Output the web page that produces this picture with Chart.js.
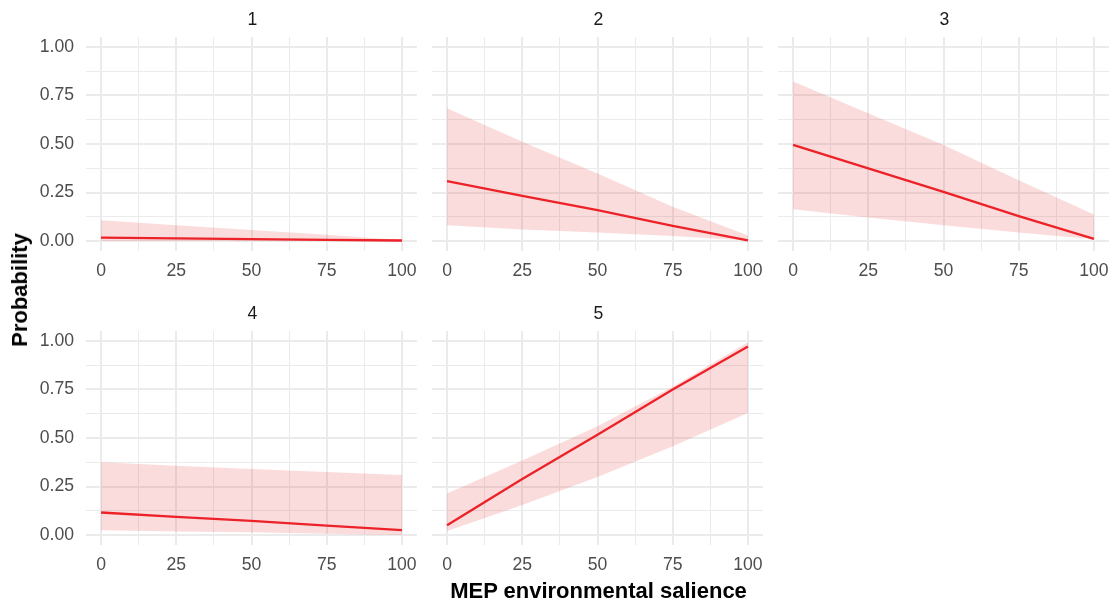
<!DOCTYPE html>
<html>
<head>
<meta charset="utf-8">
<script src="https://cdn.jsdelivr.net/npm/chart.js@4"></script>
<style>
  body { margin: 0; background: #fff; width: 1118px; height: 604px; position: relative; overflow: hidden;
         font-family: "Liberation Sans", Arial, sans-serif; }
  canvas { position: absolute; }
  .lbl { position: absolute; transform: translate(-50%, -50%); line-height: 1; white-space: nowrap; }
  .strip { font-size: 17.6px; color: #1a1a1a; }
  .axis-title { font-size: 22px; font-weight: bold; color: #000; }
</style>
</head>
<body>
<script>
// Predicted probability of each response category across MEP environmental salience
const salience = [0, 25, 50, 75, 100];
const categories = ['1', '2', '3', '4', '5'];

const fit1   = [0.019, 0.015, 0.011, 0.007, 0.004];
const lower1 = [0.002, 0.002, 0.001, 0.001, 0.000];
const upper1 = [0.108, 0.082, 0.058, 0.034, 0.006];

const fit2   = [0.309, 0.233, 0.160, 0.079, 0.005];
const lower2 = [0.082, 0.060, 0.045, 0.027, 0.004];
const upper2 = [0.684, 0.512, 0.349, 0.177, 0.030];

const fit3   = [0.495, 0.375, 0.254, 0.129, 0.012];
const lower3 = [0.165, 0.122, 0.082, 0.045, 0.010];
const upper3 = [0.821, 0.658, 0.495, 0.314, 0.138];

const fit4   = [0.117, 0.095, 0.074, 0.050, 0.026];
const lower4 = [0.026, 0.020, 0.016, 0.008, 0.001];
const upper4 = [0.375, 0.358, 0.341, 0.325, 0.310];

const fit5   = [0.052, 0.289, 0.517, 0.749, 0.970];
const lower5 = [0.022, 0.155, 0.300, 0.458, 0.628];
const upper5 = [0.215, 0.384, 0.560, 0.763, 0.992];

const xTickValues = [0, 12.5, 25, 37.5, 50, 62.5, 75, 87.5, 100];
const yTickValues = [0, 0.125, 0.25, 0.375, 0.5, 0.625, 0.75, 0.875, 1];

const panels = [
  { name: categories[0], fit: fit1, lower: lower1, upper: upper1, row: 0, col: 0 },
  { name: categories[1], fit: fit2, lower: lower2, upper: upper2, row: 0, col: 1 },
  { name: categories[2], fit: fit3, lower: lower3, upper: upper3, row: 0, col: 2 },
  { name: categories[3], fit: fit4, lower: lower4, upper: upper4, row: 1, col: 0 },
  { name: categories[4], fit: fit5, lower: lower5, upper: upper5, row: 1, col: 1 }
];

// Facet grid geometry (plot areas)
const plotLeft = [86, 432, 778];
const plotTop = [37, 331];
const plotW = 333, plotH = 214;
const yAxisW = 60, xAxisH = 40, padTop = 26, padRight = 8;

const FONT = '"Liberation Sans", Arial, sans-serif';
const GRID = '#ebebeb';
const LINE = '#ee1c24';
const RIBBON = 'rgba(235, 60, 60, 0.18)';

const isMajor = (v, step) => Math.abs(v / step - Math.round(v / step)) < 1e-9;
const pts = ys => ys.map((y, i) => ({ x: salience[i], y }));

function addLabel(text, cls, x, y, rotate) {
  const d = document.createElement('div');
  d.className = 'lbl ' + cls;
  d.textContent = text;
  d.style.left = x + 'px';
  d.style.top = y + 'px';
  if (rotate) d.style.transform = 'translate(-50%, -50%) rotate(-90deg)';
  document.body.appendChild(d);
}

panels.forEach(p => {
  const cv = document.createElement('canvas');
  const w = yAxisW + plotW + padRight;
  const h = padTop + plotH + xAxisH;
  cv.width = w; cv.height = h;
  cv.style.left = (plotLeft[p.col] - yAxisW) + 'px';
  cv.style.top = (plotTop[p.row] - padTop) + 'px';
  cv.style.width = w + 'px'; cv.style.height = h + 'px';
  document.body.appendChild(cv);

  new Chart(cv, {
    type: 'line',
    data: {
      datasets: [
        { data: pts(p.lower), borderWidth: 0, borderColor: 'transparent', pointRadius: 0, fill: false },
        { data: pts(p.upper), borderWidth: 0, borderColor: 'transparent', pointRadius: 0, fill: '-1', backgroundColor: RIBBON },
        { data: pts(p.fit), borderColor: LINE, borderWidth: 2.3, pointRadius: 0, fill: false, tension: 0 }
      ]
    },
    options: {
      responsive: false,
      devicePixelRatio: 1,
      animation: false,
      layout: { padding: { top: padTop, right: padRight, left: 0, bottom: 0 } },
      plugins: { legend: { display: false }, tooltip: { enabled: false } },
      scales: {
        x: {
          type: 'linear', min: -5, max: 105,
          afterBuildTicks: ax => { ax.ticks = xTickValues.map(v => ({ value: v })); },
          afterFit: ax => { ax.height = xAxisH; },
          border: { display: false },
          grid: { color: GRID, drawTicks: false,
                  lineWidth: c => (c.tick && isMajor(c.tick.value, 25)) ? 2 : 1 },
          ticks: { autoSkip: false, maxRotation: 0, padding: 10, color: '#4d4d4d',
                   font: { family: FONT, size: 17.6 },
                   callback: v => isMajor(v, 25) ? String(v) : '' }
        },
        y: {
          type: 'linear', min: -0.05, max: 1.05,
          afterBuildTicks: ax => { ax.ticks = yTickValues.map(v => ({ value: v })); },
          afterFit: ax => { ax.width = yAxisW; },
          border: { display: false },
          grid: { color: GRID, drawTicks: false,
                  lineWidth: c => (c.tick && isMajor(c.tick.value, 0.25)) ? 2 : 1 },
          ticks: { display: p.col === 0, autoSkip: false, padding: 12, color: '#4d4d4d',
                   font: { family: FONT, size: 17.6 },
                   callback: v => isMajor(v, 0.25) ? v.toFixed(2) : '' }
        }
      }
    }
  });

  addLabel(p.name, 'strip', plotLeft[p.col] + plotW / 2, plotTop[p.row] - 17);
});

addLabel('MEP environmental salience', 'axis-title', 598.5, 590.5);
addLabel('Probability', 'axis-title', 19.5, 290, true);
</script>
</body>
</html>
